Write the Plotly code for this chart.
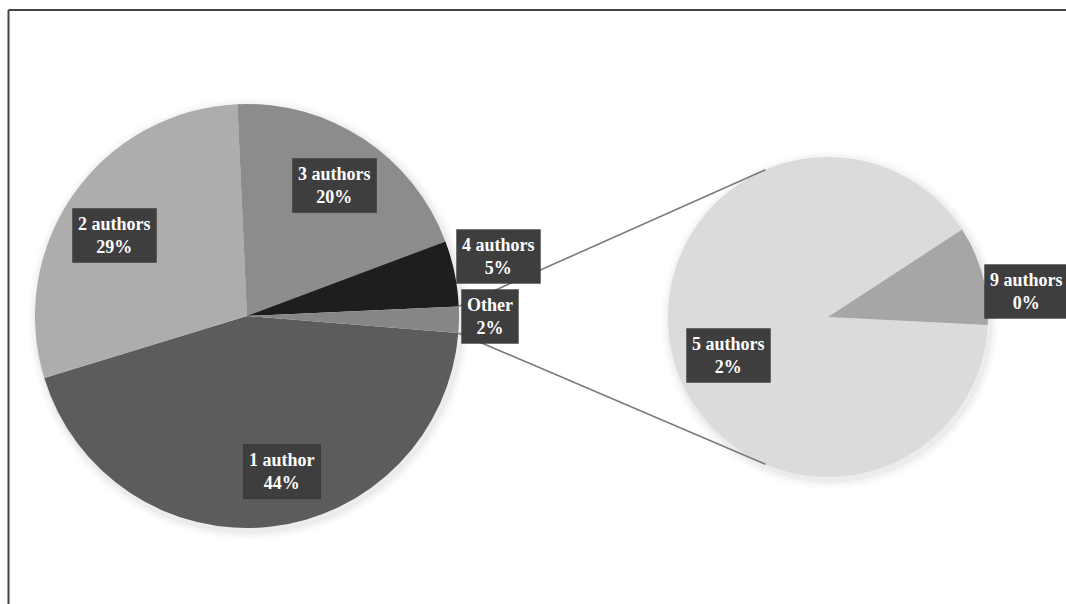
import math
import plotly.graph_objects as go

# ---------------- data ----------------
main_labels = ["1 author", "2 authors", "3 authors", "4 authors"]
main_values = [44.0, 29.0, 20.0, 5.0]
other_label = "Other"
sub_labels = ["5 authors", "9 authors"]
sub_values = [1.8, 0.2]

# ---------------- styles ----------------
W, H = 1066, 604
main_colors = ["#5c5c5c", "#adadad", "#8c8c8c", "#1e1e1e", "#878787"]
sub_colors = ["#dbdbdb", "#a6a6a6"]
main_rotation = 94.6     # degrees clockwise from 12 o'clock where first slice starts
sub_rotation = 92.9
main_center, main_r = (247, 316), 212
sub_center, sub_r = (828, 317), 160
# label placement: radial factor and angular nudge (deg) per slice
main_label_pos = [(0.75, -6.5), (0.73, -3.9), (0.74, 0.4), (1.22, -1.8), (1.146, -0.8)]
sub_label_pos = [(0.67, -6.2), (1.25, 7.9)]
label_font = dict(family="Liberation Serif", size=18, color="white")
box_color = "#3e3e3e"

left_values = main_values + [sum(sub_values)]
left_labels = main_labels + [other_label]
total = sum(left_values)


def px_to_paper(x, y):
    return x / W, 1 - y / H


def domain(center, r):
    cx, cy = center
    x0, y1 = px_to_paper(cx - r, cy - r)
    x1, y0 = px_to_paper(cx + r, cy + r)
    return dict(x=[x0, x1], y=[y0, y1])


def slice_angles(values, rotation):
    s = sum(values)
    out = []
    a = rotation
    for v in values:
        span = 360.0 * v / s
        out.append((a, a + span))
        a += span
    return out


def polar_px(center, r, ang):
    cx, cy = center
    t = math.radians(ang)
    return cx + r * math.sin(t), cy - r * math.cos(t)


fig = go.Figure()

# soft shadows behind pies
for center, r in [(main_center, main_r), (sub_center, sub_r)]:
    for k, op in [(9, 0.015), (6, 0.025), (3, 0.035)]:
        x0, y0 = px_to_paper(center[0] - r - k + 2, center[1] - r - k + 3)
        x1, y1 = px_to_paper(center[0] + r + k + 2, center[1] + r + k + 3)
        fig.add_shape(type="circle", xref="paper", yref="paper",
                      x0=x0, x1=x1, y0=y1, y1=y0,
                      fillcolor=f"rgba(0,0,0,{op})", line=dict(width=0),
                      layer="below")

fig.add_trace(go.Pie(
    labels=left_labels, values=left_values, sort=False,
    direction="clockwise", rotation=main_rotation,
    marker=dict(colors=main_colors, line=dict(width=0)),
    textinfo="none", hoverinfo="label+percent",
    domain=domain(main_center, main_r), showlegend=False,
))
fig.add_trace(go.Pie(
    labels=sub_labels, values=sub_values, sort=False,
    direction="clockwise", rotation=sub_rotation,
    marker=dict(colors=sub_colors, line=dict(width=0)),
    textinfo="none", hoverinfo="label",
    domain=domain(sub_center, sub_r), showlegend=False,
))

# connector lines from the "Other" slice to the second pie
main_ang = slice_angles(left_values, main_rotation)
o_start, o_end = main_ang[-1]
p_top = polar_px(main_center, main_r, o_start)
p_bot = polar_px(main_center, main_r, o_end)
q_top = polar_px(sub_center, sub_r, 360 - 23)
q_bot = polar_px(sub_center, sub_r, 180 + 23)
for p, q in [(p_top, q_top), (p_bot, q_bot)]:
    x0, y0 = px_to_paper(*p)
    x1, y1 = px_to_paper(*q)
    fig.add_shape(type="line", xref="paper", yref="paper",
                  x0=x0, y0=y0, x1=x1, y1=y1,
                  line=dict(color="#7a7a7a", width=1.6), layer="above")

# data labels


def add_label(center, r, angs, idx, name, value, pos):
    a0, a1 = angs[idx]
    f, nudge = pos
    x, y = polar_px(center, r * f, (a0 + a1) / 2 + nudge)
    pct = round(100 * value / total)
    text = f"<b>{name}<br>{pct}%</b>"
    xp, yp = px_to_paper(x, y)
    fig.add_annotation(x=xp, y=yp, xref="paper", yref="paper",
                       xanchor="center", yanchor="middle",
                       text=text, showarrow=False,
                       font=label_font, bgcolor=box_color, borderpad=5,
                       bordercolor="rgba(0,0,0,0.25)", borderwidth=1,
                       align="center")


for i, (n, v) in enumerate(zip(left_labels, left_values)):
    add_label(main_center, main_r, main_ang, i, n, v, main_label_pos[i])
sub_ang = slice_angles(sub_values, sub_rotation)
for i, (n, v) in enumerate(zip(sub_labels, sub_values)):
    add_label(sub_center, sub_r, sub_ang, i, n, v, sub_label_pos[i])

# chart frame (top and left edges visible)
fx0, fy0 = px_to_paper(8.5, 10)
fig.add_shape(type="line", xref="paper", yref="paper", x0=fx0, y0=fy0, x1=1.0, y1=fy0,
              line=dict(color="#444444", width=2))
fig.add_shape(type="line", xref="paper", yref="paper", x0=fx0, y0=fy0, x1=fx0, y1=0.0,
              line=dict(color="#444444", width=2))

fig.update_layout(
    width=W, height=H, margin=dict(l=0, r=0, t=0, b=0),
    paper_bgcolor="white", plot_bgcolor="white", showlegend=False,
)
fig.write_html(
    "out.html",
    config={"displayModeBar": False},
    post_script="document.body.style.margin='0';document.body.style.overflow='hidden';",
)
